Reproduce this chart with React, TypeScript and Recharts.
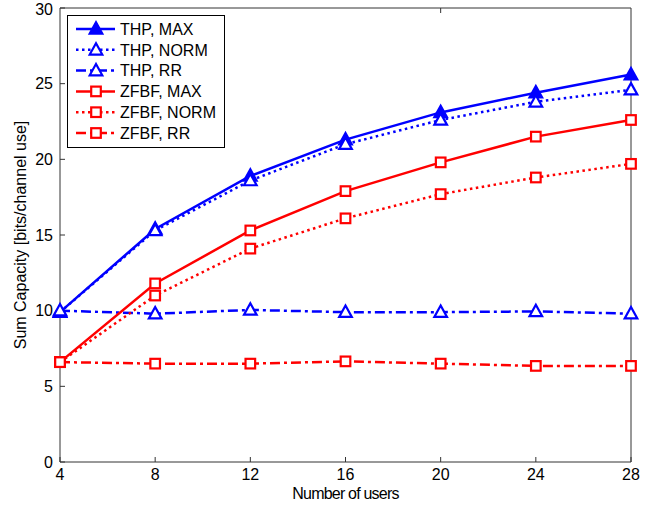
import React from 'react'
import { LineChart, Line, XAxis, YAxis } from 'recharts'

const users = [4, 8, 12, 16, 20, 24, 28]
const thpMax = [9.9, 15.4, 18.9, 21.3, 23.1, 24.4, 25.6]
const thpNorm = [9.9, 15.3, 18.6, 21.0, 22.6, 23.8, 24.6]
const thpRR = [10.0, 9.8, 10.05, 9.9, 9.9, 9.95, 9.8]
const zfbfMax = [6.6, 11.8, 15.3, 17.9, 19.8, 21.5, 22.6]
const zfbfNorm = [6.6, 11.0, 14.1, 16.1, 17.7, 18.8, 19.7]
const zfbfRR = [6.6, 6.5, 6.5, 6.65, 6.5, 6.35, 6.35]
const xTicks = [4, 8, 12, 16, 20, 24, 28]
const yTicks = [0, 5, 10, 15, 20, 25, 30]

const BLUE = '#0000ff'
const RED = '#ff0000'
const AXIS = '#333333'
const DOTTED = '2.5 3.5'
const DASHDOT = '10 4 3 4'

type Marker = 'triangle' | 'square'

const series = [
  { key: 'thpMax', name: 'THP, MAX', values: thpMax, color: BLUE, dash: undefined, marker: 'triangle' as Marker, filled: true },
  { key: 'thpNorm', name: 'THP, NORM', values: thpNorm, color: BLUE, dash: DOTTED, marker: 'triangle' as Marker, filled: false },
  { key: 'thpRR', name: 'THP, RR', values: thpRR, color: BLUE, dash: DASHDOT, marker: 'triangle' as Marker, filled: false },
  { key: 'zfbfMax', name: 'ZFBF, MAX', values: zfbfMax, color: RED, dash: undefined, marker: 'square' as Marker, filled: false },
  { key: 'zfbfNorm', name: 'ZFBF, NORM', values: zfbfNorm, color: RED, dash: DOTTED, marker: 'square' as Marker, filled: false },
  { key: 'zfbfRR', name: 'ZFBF, RR', values: zfbfRR, color: RED, dash: DASHDOT, marker: 'square' as Marker, filled: false },
]

const data = users.map((u, i) => {
  const row: Record<string, number> = { users: u }
  series.forEach((s) => {
    row[s.key] = s.values[i]
  })
  return row
})

function MarkerShape({ cx, cy, color, marker, filled }: { cx: number; cy: number; color: string; marker: Marker; filled: boolean }) {
  if (marker === 'triangle') {
    const s = 6.3
    return (
      <polygon
        points={`${cx},${cy - s * 1.05} ${cx - s},${cy + s * 0.75} ${cx + s},${cy + s * 0.75}`}
        fill={filled ? color : '#fff'}
        stroke={color}
        strokeWidth={2.2}
      />
    )
  }
  const h = 4.8
  return <rect x={cx - h} y={cy - h} width={h * 2} height={h * 2} fill="#fff" stroke={color} strokeWidth={2.2} />
}

function ChartLegend() {
  return (
    <svg width={158} height={133} style={{ position: 'absolute', left: 67, top: 15 }}>
      <rect x={0.5} y={0.5} width={157} height={132} fill="#fff" stroke="#000" strokeWidth={1} />
      {series.map((s, i) => {
        const y = 14 + i * 20.8
        return (
          <g key={s.key}>
            <line x1={9} x2={48} y1={y} y2={y} stroke={s.color} strokeWidth={2.5} strokeDasharray={s.dash} />
            <MarkerShape cx={29} cy={y} color={s.color} marker={s.marker} filled={s.filled} />
            <text x={53} y={y} dy="0.36em" fontSize={16} fill="#000">
              {s.name}
            </text>
          </g>
        )
      })}
    </svg>
  )
}

function XLabel({ viewBox }: any) {
  if (!viewBox) return null
  return (
    <text
      x={viewBox.x + viewBox.width / 2}
      y={viewBox.y + viewBox.height + 7}
      textAnchor="middle"
      fontSize={16}
      letterSpacing={-0.8}
      fill="#000"
    >
      Number of users
    </text>
  )
}

export default function App() {
  return (
    <div style={{ position: 'relative', width: 669, height: 511, fontFamily: '"Liberation Sans", Arial, sans-serif', background: '#fff' }}>
      <style>{'body{margin:0}'}</style>
      <LineChart width={669} height={511} data={data} margin={{ top: 8, right: 38, bottom: 19, left: 0 }}>
        <XAxis
          dataKey="users"
          type="number"
          domain={[4, 28]}
          ticks={xTicks}
          height={30}
          tickSize={-5}
          tickMargin={12}
          stroke={AXIS}
          tick={{ fill: '#000', fontSize: 16 }}
          label={{ value: 'Number of users', content: <XLabel /> }}
        />
        <XAxis
          xAxisId="top"
          orientation="top"
          mirror
          type="number"
          domain={[4, 28]}
          ticks={xTicks}
          tickSize={5}
          stroke={AXIS}
          tickFormatter={() => ''}
        />
        <YAxis
          type="number"
          domain={[0, 30]}
          ticks={yTicks}
          width={60}
          tickSize={-5}
          tickMargin={12}
          stroke={AXIS}
          tick={{ fill: '#000', fontSize: 16 }}
          label={{
            value: 'Sum Capacity [bits/channel use]',
            angle: -90,
            position: 'insideLeft',
            offset: 20,
            fill: '#000',
            style: { textAnchor: 'middle', fontSize: '16px' },
          }}
        />
        <YAxis
          yAxisId="right"
          orientation="right"
          mirror
          type="number"
          domain={[0, 30]}
          ticks={yTicks}
          tickSize={5}
          stroke={AXIS}
          tickFormatter={() => ''}
        />
        {series.map((s) => (
          <Line
            key={s.key}
            dataKey={s.key}
            name={s.name}
            stroke={s.color}
            strokeWidth={2.5}
            strokeDasharray={s.dash}
            isAnimationActive={false}
            dot={(p: any) => (
              <MarkerShape key={`${s.key}-${p.index}`} cx={p.cx} cy={p.cy} color={s.color} marker={s.marker} filled={s.filled} />
            )}
            activeDot={false}
          />
        ))}
      </LineChart>
      <ChartLegend />
    </div>
  )
}
